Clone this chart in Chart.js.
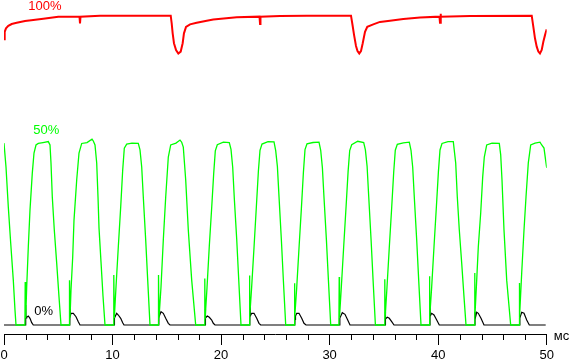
<!DOCTYPE html>
<html>
<head>
<meta charset="utf-8">
<script src="https://cdn.jsdelivr.net/npm/chart.js@4.4.1/dist/chart.umd.min.js"></script>
<style>
  html, body { margin: 0; padding: 0; background: #fff; }
  #wrap { width: 569px; height: 360px; }
</style>
</head>
<body>
<div id="wrap"><canvas id="chart" width="569" height="360"></canvas></div>
<script>
// время, мс / яркость, % (100% = белый)
const redTime = [0, 0.064, 0.184, 0.396, 0.709, 1.170, 1.935, 2.699, 3.621, 5.003, 6.956, 7.002, 7.048, 8.845,
  15.36, 15.45, 15.54, 15.66, 15.85, 16.06, 16.28, 16.46, 16.58, 16.77, 17.14, 17.75, 18.68, 19.28, 21.44,
  23.54, 23.59, 23.63, 25.43, 27.89, 31.97, 32.11, 32.25, 32.43, 32.57, 32.73, 32.89, 33.05, 33.26, 33.47,
  34.02, 34.64, 35.56, 36.79, 38.33, 40.12, 40.17, 40.22, 40.26, 42.93, 48.62, 48.77, 48.92, 49.08, 49.23,
  49.38, 49.54, 49.69, 49.85, 50.0];
const redLevel = [92.4, 94.8, 95.9, 96.7, 97.3, 97.7, 98.3, 98.6, 99.0, 99.7, 99.7, 97.5, 99.7, 100.0,
  100.0, 97.5, 94.3, 91.1, 88.9, 87.8, 88.4, 91.1, 94.3, 96.4, 97.2, 97.7, 98.4, 98.8, 99.5,
  99.7, 97.3, 99.7, 99.9, 100.0, 100.0, 97.0, 93.8, 90.2, 88.6, 87.8, 88.6, 91.1, 94.8, 96.4,
  97.2, 98.0, 98.4, 98.9, 99.4, 99.7, 97.7, 100.6, 99.7, 99.9, 100.0, 96.4, 92.7, 90.0, 88.4,
  87.8, 88.9, 91.6, 93.8, 95.6];

const greenTime = [
  0, 0.184, 0.396, 0.617, 0.857, 1.013, 1.106,
  1.926, 1.953, 1.999, 2.091, 2.239, 2.395, 2.607, 2.764, 2.948, 3.160, 3.593, 4.081, 4.238, 4.330, 4.450, 4.634, 4.855, 5.067, 5.252,
  6.007, 6.035, 6.081, 6.173, 6.330, 6.449, 6.698, 6.910, 7.159, 7.647, 8.108, 8.227, 8.384, 8.541, 8.661, 8.753, 8.937, 9.121, 9.305,
  10.088, 10.116, 10.162, 10.319, 10.531, 10.752, 10.936, 11.084, 11.305, 11.793, 12.373, 12.530, 12.687, 12.834, 13.055, 13.240, 13.451,
  14.207, 14.235, 14.281, 14.465, 14.677, 14.898, 15.138, 15.359, 15.847, 16.216, 16.372, 16.519, 16.741, 16.980, 17.293, 17.662,
  18.473, 18.500, 18.528, 18.703, 18.915, 19.136, 19.320, 19.468, 19.652, 20.205, 20.757, 20.914, 21.071, 21.218, 21.439, 21.624, 21.835,
  22.591, 22.619, 22.646, 22.821, 23.033, 23.254, 23.438, 23.586, 23.770, 24.323, 24.876, 25.032, 25.189, 25.337, 25.558, 25.742, 25.954,
  26.737, 26.765, 26.792, 26.967, 27.179, 27.400, 27.584, 27.732, 27.916, 28.469, 29.022, 29.178, 29.335, 29.482, 29.703, 29.888, 30.100,
  30.855, 30.883, 30.910, 31.085, 31.297, 31.518, 31.702, 31.850, 32.034, 32.587, 33.140, 33.296, 33.453, 33.601, 33.822, 34.006, 34.218,
  35.056, 35.084, 35.111, 35.286, 35.498, 35.719, 35.904, 36.051, 36.236, 36.788, 37.341, 37.498, 37.655, 37.802, 38.023, 38.207, 38.419,
  39.174, 39.202, 39.229, 39.405, 39.617, 39.838, 40.022, 40.170, 40.354, 40.907, 41.395, 41.616, 41.764, 41.948, 42.169, 42.381, 42.565,
  43.330, 43.357, 43.394, 43.551, 43.698, 43.919, 44.104, 44.251, 44.472, 44.960, 45.633, 45.762, 45.882, 46.066, 46.315, 46.683,
  47.448, 47.475, 47.512, 47.697, 47.909, 48.093, 48.305, 48.526, 48.922, 49.383, 49.540, 49.751, 49.935, 50.0];
const greenLevel = [
  58.8, 51.1, 38.2, 26.5, 14.5, 4.8, 0,
  0, 13.9, 2.3, 12.3, 25.2, 37.2, 49.1, 55.6, 58.2, 58.7, 59.0, 59.3, 58.2, 52.4, 41.4, 30.7, 20.0, 9.1, 0,
  0, 14.5, 2.3, 11.3, 22.0, 33.9, 46.9, 55.6, 58.7, 59.0, 60.1, 59.5, 58.2, 52.4, 41.4, 31.4, 20.4, 9.4, 0,
  0, 16.2, 2.3, 12.3, 25.2, 38.2, 50.1, 57.2, 58.5, 58.8, 58.7, 56.6, 51.1, 41.4, 27.5, 14.5, 0,
  0, 16.2, 2.3, 12.3, 27.5, 41.4, 54.3, 58.2, 58.8, 59.8, 59.1, 57.5, 46.9, 30.7, 14.5, 0,
  0, 15.0, 2.0, 12.0, 25.5, 38.0, 49.0, 56.3, 58.3, 59.1, 59.0, 56.8, 51.0, 41.0, 27.8, 14.8, 0,
  0, 16.0, 2.5, 12.5, 25.0, 38.5, 49.8, 56.5, 58.5, 59.3, 59.2, 56.4, 51.2, 41.5, 27.3, 14.2, 0,
  0, 13.5, 2.2, 12.0, 24.8, 37.8, 49.3, 56.7, 58.6, 59.0, 59.1, 56.5, 50.8, 41.2, 27.6, 14.6, 0,
  0, 15.5, 2.4, 12.6, 25.4, 38.4, 49.6, 56.4, 58.3, 59.4, 59.0, 56.6, 51.3, 41.6, 27.4, 14.4, 0,
  0, 14.8, 2.1, 12.2, 25.1, 38.0, 49.4, 56.5, 58.4, 58.9, 59.1, 56.5, 51.0, 41.3, 27.5, 14.5, 0,
  0, 15.8, 2.3, 12.4, 25.3, 38.3, 49.5, 56.6, 58.7, 59.3, 59.3, 52.4, 41.4, 30.7, 20.0, 9.1, 0,
  0, 16.8, 2.3, 14.5, 25.2, 36.2, 47.9, 54.3, 58.2, 58.8, 58.7, 55.0, 46.9, 30.7, 14.5, 0,
  0, 13.6, 2.3, 16.8, 30.7, 41.4, 52.4, 58.2, 58.8, 59.1, 58.2, 57.2, 52.4, 50.8];

const blackTime = [
  0, 1.990, 1.999, 2.027, 2.091, 2.239, 2.395, 2.552, 2.699,
  6.062, 6.081, 6.108, 6.173, 6.385, 6.633, 6.845, 7.002,
  10.144, 10.162, 10.190, 10.383, 10.531, 10.752, 10.936, 11.056,
  14.262, 14.281, 14.308, 14.465, 14.677, 14.898, 15.138, 15.294,
  18.528, 18.546, 18.574, 18.730, 18.915, 19.136, 19.283, 19.440,
  22.646, 22.665, 22.692, 22.821, 23.033, 23.282, 23.494, 23.650,
  26.792, 26.811, 26.857, 26.967, 27.179, 27.428, 27.640, 27.824,
  30.910, 30.929, 30.956, 31.168, 31.417, 31.666, 31.878,
  35.111, 35.130, 35.157, 35.314, 35.498, 35.719, 35.932,
  39.229, 39.248, 39.276, 39.405, 39.617, 39.866, 40.105,
  43.376, 43.394, 43.422, 43.551, 43.698, 43.947, 44.223,
  47.494, 47.512, 47.540, 47.697, 47.909, 48.157, 48.397,
  49.908];
const blackLevel = [
  0, 0, 6.47, 2.26, 2.49, 2.91, 2.17, 0.74, 0,
  0, 6.14, 2.91, 3.78, 3.78, 2.68, 1.07, 0,
  0, 4.11, 2.26, 3.78, 3.23, 2.17, 0.74, 0,
  0, 6.47, 2.91, 4.30, 3.78, 2.17, 0.55, 0,
  0, 5.17, 2.26, 2.91, 2.49, 1.62, 0.55, 0,
  0, 6.24, 2.91, 3.78, 3.78, 2.17, 0.55, 0,
  0, 1.84, 2.91, 3.78, 3.78, 2.17, 0.55, 0,
  0, 1.62, 2.26, 3.98, 3.46, 1.62, 0,
  0, 4.30, 1.94, 2.49, 2.17, 1.07, 0,
  0, 6.69, 2.91, 3.78, 3.23, 1.62, 0,
  0, 4.30, 2.26, 4.11, 3.78, 2.17, 0,
  0, 2.36, 2.26, 4.11, 3.78, 1.62, 0,
  0];

// подписи уровней
const traceNames = ['100%', '50%', '0%'];
const traceColors = ['#ff0000', '#00ff00', '#000000'];
const nameX = [2.24, 2.70, 2.79];
const nameY = [102.0, 61.8, 3.2];

const unitLabel = 'мс';

const pts = (xs, ys) => xs.map((x, i) => ({ x, y: ys[i] }));

const extras = {
  id: 'extras',
  afterDraw(chart) {
    const { ctx, chartArea, scales: { x, y } } = chart;
    ctx.save();
    // мелкие риски через 2 мс
    ctx.strokeStyle = '#000';
    ctx.lineWidth = 1;
    for (let v = 2; v < 50; v += 2) {
      if (v % 10 === 0) continue;
      const px = Math.round(x.getPixelForValue(v)) + 0.5;
      ctx.beginPath();
      ctx.moveTo(px, chartArea.bottom);
      ctx.lineTo(px, chartArea.bottom + 6);
      ctx.stroke();
    }
    ctx.font = '13px "Liberation Sans", Arial, sans-serif';
    ctx.textBaseline = 'alphabetic';
    ctx.textAlign = 'left';
    traceNames.forEach((name, i) => {
      ctx.fillStyle = traceColors[i];
      ctx.fillText(name, x.getPixelForValue(nameX[i]), y.getPixelForValue(nameY[i]));
    });
    ctx.fillStyle = '#000';
    ctx.fillText(unitLabel, chartArea.right + 7, chartArea.bottom + 5.5);
    ctx.restore();
  },
};

new Chart(document.getElementById('chart'), {
  type: 'line',
  data: {
    datasets: [
      { data: pts(greenTime, greenLevel), borderColor: '#00ff00', borderWidth: 1.3 },
      { data: pts(redTime, redLevel), borderColor: '#ff0000', borderWidth: 2 },
      { data: pts(blackTime, blackLevel), borderColor: '#000000', borderWidth: 1.2 },
    ],
  },
  options: {
    responsive: false,
    animation: false,
    devicePixelRatio: 1,
    parsing: false,
    elements: { point: { radius: 0 }, line: { tension: 0, fill: false } },
    layout: { padding: { left: 4, right: 22.3, top: 0, bottom: -5 } },
    scales: {
      x: {
        type: 'linear',
        min: 0,
        max: 50,
        border: { display: true, color: '#000', width: 1 },
        grid: { display: true, drawOnChartArea: false, drawTicks: true, tickLength: 11, tickColor: '#000' },
        ticks: {
          stepSize: 10,
          color: '#000',
          padding: 0,
          maxRotation: 0,
          font: { family: '"Liberation Sans", Arial, sans-serif', size: 13, lineHeight: 20 / 13 },
        },
      },
      y: { display: false, min: -2.91, max: 105.08 },
    },
    plugins: { legend: { display: false }, tooltip: { enabled: false } },
  },
  plugins: [extras],
});
</script>
</body>
</html>
